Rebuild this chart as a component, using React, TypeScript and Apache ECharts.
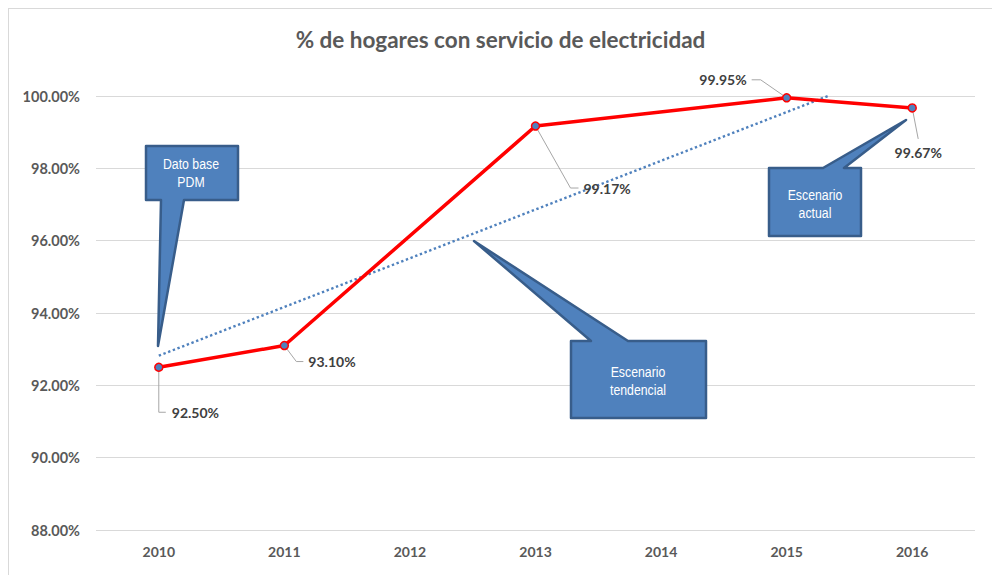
import React, { useEffect, useRef } from 'react';
import * as echarts from 'echarts';

const years = ['2010', '2011', '2012', '2013', '2014', '2015', '2016'];
const coverage: (number | null)[] = [92.5, 93.1, null, 99.17, null, 99.95, 99.67];
const trendX = [0, 5.33];
const trendY = [92.82, 100];
const yMin = 88;
const yMax = 100;
const yStep = 2;

// leader line bend points and label anchor, relative to each data point (pixels)
const leaderOffsets: Record<number, number[][]> = {
  0: [[0, 0], [0, 45], [7, 45]],
  1: [[0, 0], [12, 16], [19, 16]],
  3: [[0, 0], [35, 62], [43, 62]],
  5: [[0, 0], [-26, -18], [-35, -18]],
  6: [[0, 0], [6, 31]],
};
const labelAnchor: Record<number, { dx: number; dy: number; align: string }> = {
  0: { dx: 13, dy: 45, align: 'left' },
  1: { dx: 24, dy: 16, align: 'left' },
  3: { dx: 48, dy: 62, align: 'left' },
  5: { dx: -40, dy: -18, align: 'right' },
  6: { dx: 6, dy: 45, align: 'center' },
};

const callouts = [
  {
    text: 'Dato base\nPDM',
    points: [[137, 137], [229, 137], [229, 191], [175, 191], [149, 337], [152, 191], [137, 191]],
    tx: 182, ty: 164,
  },
  {
    text: 'Escenario\ntendencial',
    points: [[562, 332], [582, 332], [465, 232], [619, 332], [697, 332], [697, 409], [562, 409]],
    tx: 629, ty: 372,
  },
  {
    text: 'Escenario\nactual',
    points: [[760, 159], [814, 159], [897, 111], [835, 159], [852, 159], [852, 227], [760, 227]],
    tx: 806, ty: 195,
  },
];

const baseFont = 'Lato, "Open Sans", sans-serif';

export default function App() {
  const ref = useRef<HTMLDivElement>(null);
  useEffect(() => {
    if (!ref.current) return;
    const chart = echarts.init(ref.current, null, { renderer: 'svg' });
    chart.setOption({
      animation: false,
      backgroundColor: '#ffffff',
      title: {
        text: '% de hogares con servicio de electricidad',
        left: 'center',
        top: 14,
        textStyle: { fontFamily: baseFont, fontSize: 22.5, fontWeight: 'bold', color: '#595959' },
      },
      grid: { left: 87, right: 17, top: 87, bottom: 45 },
      xAxis: [
        {
          type: 'category',
          data: years,
          boundaryGap: true,
          axisLine: { show: false },
          axisTick: { show: false },
          axisLabel: { margin: 14, fontFamily: baseFont, fontSize: 14, fontWeight: 'bold', color: '#595959' },
        },
        { type: 'value', min: -0.5, max: 6.5, show: false },
      ],
      yAxis: {
        type: 'value',
        min: yMin,
        max: yMax,
        interval: yStep,
        axisLine: { show: false },
        axisTick: { show: false },
        splitLine: { lineStyle: { color: '#d9d9d9', width: 1 } },
        axisLabel: {
          margin: 16,
          fontFamily: baseFont,
          fontSize: 14.5,
          fontWeight: 'bold',
          color: '#595959',
          formatter: (v: number) => v.toFixed(2) + '%',
        },
      },
      series: [
        {
          type: 'line',
          xAxisIndex: 1,
          data: trendX.map((x, i) => [x, trendY[i]]),
          symbol: 'none',
          lineStyle: { color: '#4F81BD', width: 2.4, type: [2.4, 2.6] },
          z: 2,
        },
        {
          type: 'line',
          data: coverage,
          connectNulls: true,
          symbol: 'circle',
          symbolSize: 8,
          itemStyle: { color: '#4F81BD', borderColor: '#FF0000', borderWidth: 1.5 },
          lineStyle: { color: '#FF0000', width: 3.5 },
          z: 3,
        },
      ],
    });

    const graphics: any[] = [];
    coverage.forEach((v, i) => {
      if (v == null) return;
      const p = chart.convertToPixel({ xAxisIndex: 0, yAxisIndex: 0 }, [i, v]) as number[];
      const lo = leaderOffsets[i];
      const la = labelAnchor[i];
      graphics.push({
        type: 'polyline',
        shape: { points: lo.map((o) => [p[0] + o[0], p[1] + o[1]]) },
        style: { stroke: '#a6a6a6', lineWidth: 1, fill: null },
        z: 1,
      });
      graphics.push({
        type: 'text',
        x: p[0] + la.dx,
        y: p[1] + la.dy,
        style: {
          text: v.toFixed(2) + '%',
          fontFamily: baseFont,
          fontSize: 14,
          fontWeight: 'bold',
          fill: '#404040',
          align: la.align,
          verticalAlign: 'middle',
        },
        z: 10,
      });
    });
    callouts.forEach((c) => {
      graphics.push({
        type: 'polygon',
        shape: { points: c.points },
        style: { fill: '#4F81BD', stroke: '#385D8A', lineWidth: 2.5, lineJoin: 'round' },
        z: 20,
      });
      graphics.push({
        type: 'text',
        x: c.tx,
        y: c.ty,
        scaleX: 0.82,
        style: {
          text: c.text,
          fontFamily: '"Liberation Sans", Arial, sans-serif',
          fontSize: 15,
          lineHeight: 18,
          fill: '#ffffff',
          align: 'center',
          verticalAlign: 'middle',
        },
        z: 21,
      });
    });
    chart.setOption({ graphic: graphics });

    return () => chart.dispose();
  }, []);

  return (
    <div
      ref={ref}
      style={{
        position: 'fixed',
        left: 8,
        top: 8,
        width: 984,
        height: 567,
        borderLeft: '1px solid #d9d9d9',
        borderTop: '1px solid #d9d9d9',
        boxSizing: 'border-box',
      }}
    />
  );
}
